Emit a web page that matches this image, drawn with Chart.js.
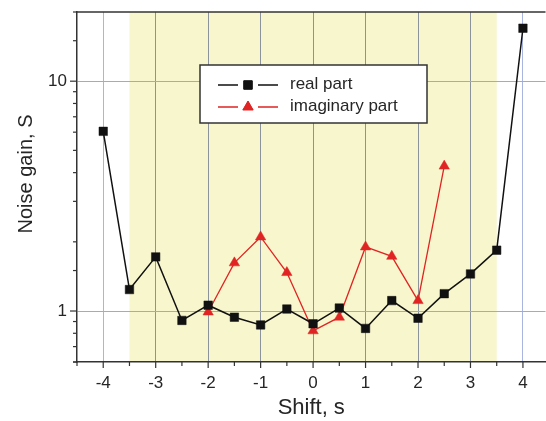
<!DOCTYPE html>
<html>
<head>
<meta charset="utf-8">
<script src="https://cdn.jsdelivr.net/npm/chart.js@4.4.1/dist/chart.umd.min.js"></script>
<style>
  html, body { margin: 0; padding: 0; background: #fff; overflow: hidden; }
  #wrap { width: 552px; height: 421px; }
</style>
</head>
<body>
<div id="wrap"><canvas id="chart" width="552" height="421"></canvas></div>
<script>
// shift values (s)
const realShift = [-4, -3.5, -3, -2.5, -2, -1.5, -1, -0.5, 0, 0.5, 1, 1.5, 2, 2.5, 3, 3.5, 4];
const realGain = [6.05, 1.24, 1.72, 0.91, 1.06, 0.94, 0.87, 1.02, 0.88, 1.03, 0.84, 1.11, 0.93, 1.19, 1.45, 1.84, 17.0];

const imagShift = [-2, -1.5, -1, -0.5, 0, 0.5, 1, 1.5, 2, 2.5];
const imagGain = [0.99, 1.62, 2.10, 1.47, 0.82, 0.94, 1.90, 1.73, 1.11, 4.27];

// highlighted shift range
const bandRange = [-3.5, 3.5];

const xTicks = [-4.5, -4, -3.5, -3, -2.5, -2, -1.5, -1, -0.5, 0, 0.5, 1, 1.5, 2, 2.5, 3, 3.5, 4];
const xLabelTicks = [-4, -3, -2, -1, 0, 1, 2, 3, 4];
const yLabelTicks = [1, 10];

const FONT = "'Liberation Sans', Arial, sans-serif";
const TEXT = "#262626";

function pairs(xs, ys) {
  return xs.map((x, i) => ({ x: x, y: ys[i] }));
}

function noPad(scale) {
  scale.paddingLeft = 0;
  scale.paddingRight = 0;
  scale.paddingTop = 0;
  scale.paddingBottom = 0;
}

function xGridColor(c) {
  if (!c.tick || !xLabelTicks.includes(c.tick.value)) return "rgba(0,0,0,0)";
  const v = c.tick.value;
  return v > bandRange[0] && v < bandRange[1] ? "#8d939c" : "#a9b4e0";
}

const bandPlugin = {
  id: "band",
  beforeDraw(chart) {
    const { ctx, chartArea, scales } = chart;
    const x0 = scales.x.getPixelForValue(bandRange[0]);
    const x1 = scales.x.getPixelForValue(bandRange[1]);
    ctx.save();
    ctx.fillStyle = "#f8f6cc";
    ctx.fillRect(x0, chartArea.top, x1 - x0, chartArea.bottom - chartArea.top);
    ctx.restore();
  }
};

const framePlugin = {
  id: "frame",
  afterDraw(chart) {
    const { ctx, chartArea, scales } = chart;
    ctx.save();
    ctx.strokeStyle = "#333";
    ctx.lineWidth = 1.5;
    // top border
    ctx.beginPath();
    ctx.moveTo(chartArea.left, chartArea.top);
    ctx.lineTo(chartArea.right, chartArea.top);
    ctx.stroke();

    // x ticks (outward)
    ctx.lineWidth = 1.2;
    scales.x.ticks.forEach((t) => {
      const px = scales.x.getPixelForValue(t.value);
      const major = Number.isInteger(t.value);
      ctx.beginPath();
      ctx.moveTo(px, chartArea.bottom);
      ctx.lineTo(px, chartArea.bottom + (major ? 6 : 4));
      ctx.stroke();
    });
    // y ticks (outward)
    scales.y.ticks.forEach((t) => {
      const py = scales.y.getPixelForValue(t.value);
      const major = yLabelTicks.includes(t.value);
      ctx.beginPath();
      ctx.moveTo(chartArea.left, py);
      ctx.lineTo(chartArea.left - (major ? 7 : 4), py);
      ctx.stroke();
    });

    // y title
    ctx.fillStyle = TEXT;
    ctx.font = "20px " + FONT;
    ctx.textAlign = "center";
    ctx.textBaseline = "middle";
    ctx.translate(26, 174);
    ctx.rotate(-Math.PI / 2);
    ctx.fillText("Noise gain, S", 0, 0);
    ctx.restore();

    // legend
    const bx = 200, by = 65, bw = 227, bh = 58;
    ctx.save();
    ctx.fillStyle = "#fff";
    ctx.fillRect(bx, by, bw, bh);
    ctx.strokeStyle = "#333";
    ctx.lineWidth = 1.5;
    ctx.strokeRect(bx, by, bw, bh);
    const rows = [85, 107];
    chart.data.datasets.forEach((ds, i) => {
      const y = rows[i];
      ctx.strokeStyle = ds.borderColor;
      ctx.lineWidth = ds.borderWidth;
      ctx.beginPath();
      ctx.moveTo(218, y); ctx.lineTo(238, y);
      ctx.moveTo(258, y); ctx.lineTo(278, y);
      ctx.stroke();
      ctx.fillStyle = ds.pointBackgroundColor;
      ctx.lineWidth = 1;
      Chart.helpers.drawPoint(ctx, { pointStyle: ds.pointStyle, radius: ds.pointRadius, rotation: 0, borderWidth: 1 }, 248, y);
      ctx.fill();
      ctx.fillStyle = TEXT;
      ctx.font = "17px " + FONT;
      ctx.textAlign = "left";
      ctx.textBaseline = "middle";
      ctx.fillText(ds.label, 290, y - 1);
    });
    ctx.restore();
  }
};

new Chart(document.getElementById("chart"), {
  type: "scatter",
  data: {
    datasets: [
      {
        label: "real part",
        data: pairs(realShift, realGain),
        showLine: true,
        borderColor: "#111",
        borderWidth: 1.5,
        pointStyle: "rect",
        pointRadius: 6,
        pointBackgroundColor: "#111",
        pointBorderColor: "#111",
        pointBorderWidth: 0.5
      },
      {
        label: "imaginary part",
        data: pairs(imagShift, imagGain),
        showLine: true,
        borderColor: "#e02424",
        borderWidth: 1.3,
        pointStyle: "triangle",
        pointRadius: 6,
        pointBackgroundColor: "#e02424",
        pointBorderColor: "#e02424",
        pointBorderWidth: 0.5
      }
    ]
  },
  options: {
    responsive: false,
    animation: false,
    layout: { padding: { top: 12, left: 0, right: 0, bottom: 0 } },
    plugins: { legend: { display: false }, tooltip: { enabled: false } },
    scales: {
      x: {
        type: "linear",
        min: -4.5,
        max: 4.43,
        afterBuildTicks(scale) { scale.ticks = xTicks.map((v) => ({ value: v })); },
        afterFit(scale) { scale.height = 59; noPad(scale); },
        border: { display: true, color: "#333", width: 1.5 },
        grid: {
          drawTicks: false,
          color: xGridColor,
          lineWidth: 1
        },
        ticks: {
          autoSkip: false,
          maxRotation: 0,
          padding: 11,
          color: TEXT,
          font: { family: FONT, size: 17 },
          callback: (v) => (xLabelTicks.includes(v) ? String(v) : "")
        },
        title: {
          display: true,
          text: "Shift, s",
          color: TEXT,
          font: { family: FONT, size: 22 },
          padding: { top: 0, bottom: 0 }
        }
      },
      y: {
        type: "logarithmic",
        min: 0.6,
        max: 20,
        afterFit(scale) { scale.width = 77; noPad(scale); },
        border: { display: true, color: "#333", width: 1.5 },
        grid: {
          drawTicks: false,
          color: (c) => (c.tick && yLabelTicks.includes(c.tick.value) ? "#9ea9d4" : "rgba(0,0,0,0)"),
          lineWidth: 1
        },
        ticks: {
          autoSkip: false,
          padding: 10,
          color: TEXT,
          font: { family: FONT, size: 17 },
          callback: (v) => (yLabelTicks.includes(v) ? String(v) : "")
        }
      }
    }
  },
  plugins: [bandPlugin, framePlugin]
});
</script>
</body>
</html>
